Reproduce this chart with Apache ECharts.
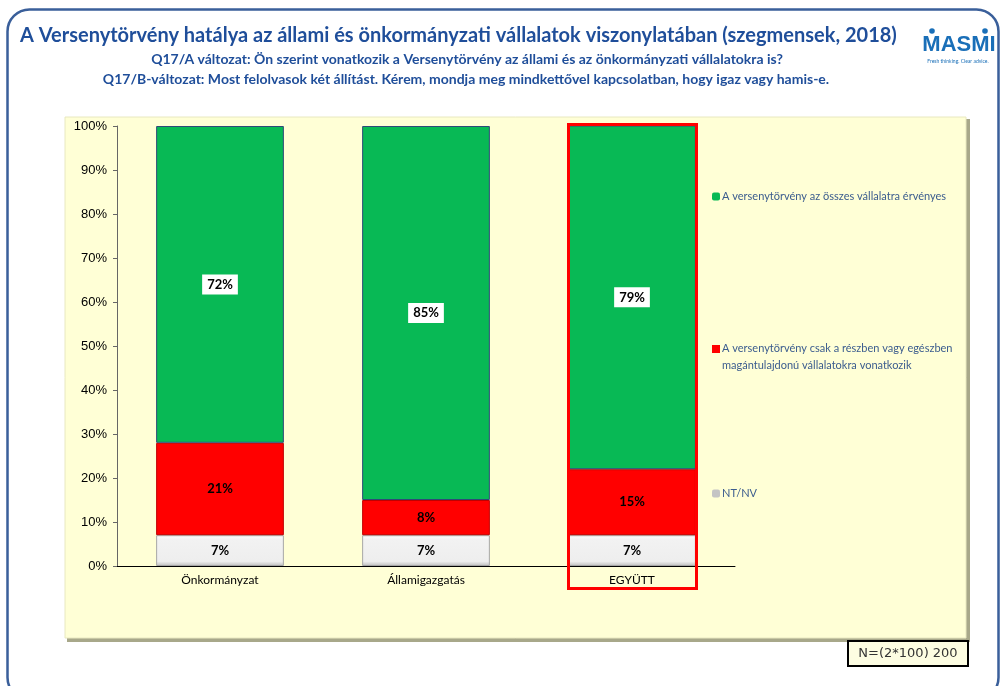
<!DOCTYPE html>
<html>
<head>
<meta charset="utf-8">
<script src="https://cdn.jsdelivr.net/npm/echarts@6/dist/echarts.min.js"></script>
<style>
html,body{margin:0;padding:0;background:#fff;}
#chart{width:1000px;height:686px;}
</style>
</head>
<body>
<div id="chart"></div>
<script>
var categories = ['Önkormányzat', 'Államigazgatás', 'EGYÜTT'];
var seriesNames = [
  'A versenytörvény az összes vállalatra érvényes',
  'A versenytörvény csak a részben vagy egészben magántulajdonú vállalatokra vonatkozik',
  'NT/NV'
];
var ntnv = [7, 7, 7];
var partial = [21, 8, 15];
var allCompanies = [72, 85, 79];
var yTicks = [0, 10, 20, 30, 40, 50, 60, 70, 80, 90, 100];

var FONT = 'Lato';
var BLUE = '#1f4e9a';
var LEG = '#3b5c8e';

var chart = echarts.init(document.getElementById('chart'), null, {renderer: 'canvas'});

function legendCfg(name, top, extra) {
  var o = {data: [name], left: 707, top: top, orient: 'vertical', itemWidth: 8, itemHeight: 8, itemGap: 0,
    itemStyle: {borderWidth: 0}, selectedMode: false,
    textStyle: {color: LEG, fontFamily: FONT, fontSize: 11, padding: [0, 0, 0, -3]}};
  if (extra) { for (var k in extra) o[k] = extra[k]; }
  return o;
}

var option = {
  animation: false,
  backgroundColor: '#ffffff',
  grid: {left: 117, right: 265, top: 126, bottom: 120, containLabel: false},
  xAxis: {
    type: 'category',
    data: categories,
    axisLine: {lineStyle: {color: '#000', width: 1}},
    axisTick: {show: false},
    axisLabel: {color: '#000', fontFamily: FONT, fontSize: 12, margin: 8}
  },
  yAxis: {
    type: 'value',
    min: 0, max: 100, interval: 10,
    axisLine: {show: true, lineStyle: {color: '#666', width: 1}},
    axisTick: {show: true, length: 4, lineStyle: {color: '#666'}},
    splitLine: {show: false},
    axisLabel: {color: '#000', fontFamily: 'Liberation Sans', fontSize: 13, margin: 10,
      formatter: function (v) { return yTicks.indexOf(v) >= 0 ? v + '%' : ''; }}
  },
  legend: [
    legendCfg(seriesNames[0], 186),
    legendCfg(seriesNames[1], 335, {
      itemHeight: 24,
      icon: 'path://M0,0h8v8h-8z M0,24h0.01v0.01h-0.01z',
      formatter: function () { return 'A versenytörvény csak a részben vagy egészben\nmagántulajdonú vállalatokra vonatkozik'; },
      textStyle: {color: LEG, fontFamily: FONT, fontSize: 11, lineHeight: 17, padding: [0, 0, 0, -3]}
    }),
    legendCfg(seriesNames[2], 483, {itemStyle: {color: '#c4c4c4', borderWidth: 0}})
  ],
  series: [
    {
      name: seriesNames[2], type: 'bar', stack: 'total', data: ntnv, barWidth: '62%', z: 3,
      itemStyle: {color: new echarts.graphic.LinearGradient(0, 0, 0, 1, [
        {offset: 0, color: '#ffffff'}, {offset: 0.15, color: '#f2f2f2'}, {offset: 0.85, color: '#eeeeee'}, {offset: 1, color: '#bdbdbd'}]),
        borderColor: '#a6a6a6', borderWidth: 1},
      label: {show: true, position: 'inside', formatter: '{c}%', color: '#000', fontWeight: 'bold', fontFamily: FONT, fontSize: 13}
    },
    {
      name: seriesNames[1], type: 'bar', stack: 'total', data: partial, barWidth: '62%', z: 3,
      itemStyle: {color: '#ff0000', borderColor: '#c00000', borderWidth: 1},
      label: {show: true, position: 'inside', formatter: '{c}%', color: '#000', fontWeight: 'bold', fontFamily: FONT, fontSize: 13}
    },
    {
      name: seriesNames[0], type: 'bar', stack: 'total', data: allCompanies, barWidth: '62%', clip: true, z: 3,
      itemStyle: {color: '#08b955', borderColor: '#2e4a78', borderWidth: 1},
      label: {show: true, position: 'inside', formatter: '{c}%', color: '#000', fontWeight: 'bold', fontFamily: FONT, fontSize: 13,
        backgroundColor: '#ffffff', padding: [4, 5, 3, 5]}
    }
  ],
  graphic: [
    {type: 'rect', z: -10, shape: {x: 7.5, y: 9.5, width: 991, height: 690, r: 22},
      style: {fill: 'none', stroke: '#3a5f9a', lineWidth: 2.5}},
    {type: 'rect', z: -9, shape: {x: 67, y: 119, width: 903, height: 523},
      style: {fill: '#a8a88a'}},
    {type: 'rect', z: -8, shape: {x: 65, y: 117, width: 901, height: 521},
      style: {fill: '#ffffd6', stroke: '#e8e8c0', lineWidth: 1}},
    {type: 'text', z: 10, style: {x: 20, y: 36,
        text: 'A Versenytörvény hatálya az állami és önkormányzati vállalatok viszonylatában (szegmensek, 2018)',
        fill: BLUE, font: 'bold 20px ' + FONT, textVerticalAlign: 'middle'}},
    {type: 'text', z: 10, style: {x: 467, y: 59, text: 'Q17/A változat: Ön szerint vonatkozik a Versenytörvény az állami és az önkormányzati vállalatokra is?',
      fill: BLUE, font: 'bold 14px ' + FONT, textAlign: 'center', textVerticalAlign: 'middle'}},
    {type: 'text', z: 10, style: {x: 466, y: 79, text: 'Q17/B-változat: Most felolvasok két állítást. Kérem, mondja meg mindkettővel kapcsolatban, hogy igaz vagy hamis-e.',
      fill: BLUE, font: 'bold 14px ' + FONT, textAlign: 'center', textVerticalAlign: 'middle'}},
    {type: 'text', z: 10, style: {x: 959, y: 45, text: 'MASMI', fill: '#1a6fb8', font: 'bold 22px "Liberation Sans"', textAlign: 'center', textVerticalAlign: 'middle'}},
    {type: 'circle', z: 10, shape: {cx: 932, cy: 31, r: 2.8}, style: {fill: '#1a6fb8'}},
    {type: 'circle', z: 10, shape: {cx: 985, cy: 31, r: 2.8}, style: {fill: '#1a6fb8'}},
    {type: 'text', z: 10, style: {x: 958, y: 61, text: 'Fresh thinking. Clear advice.', fill: '#1a6fb8', font: '5px ' + FONT, textAlign: 'center', textVerticalAlign: 'middle'}},
    {type: 'rect', z: 20, shape: {x: 568.5, y: 124.5, width: 128, height: 464},
      style: {fill: 'none', stroke: '#ff0000', lineWidth: 3}},
    {type: 'rect', z: 20, shape: {x: 848, y: 641, width: 120, height: 25},
      style: {fill: '#fdfde2', stroke: '#000', lineWidth: 2}},
    {type: 'text', z: 21, style: {x: 908, y: 654, text: 'N=(2*100) 200', fill: '#333', font: '13px "DejaVu Sans"', textAlign: 'center', textVerticalAlign: 'middle'}}
  ]
};
chart.setOption(option);
</script>
</body>
</html>
